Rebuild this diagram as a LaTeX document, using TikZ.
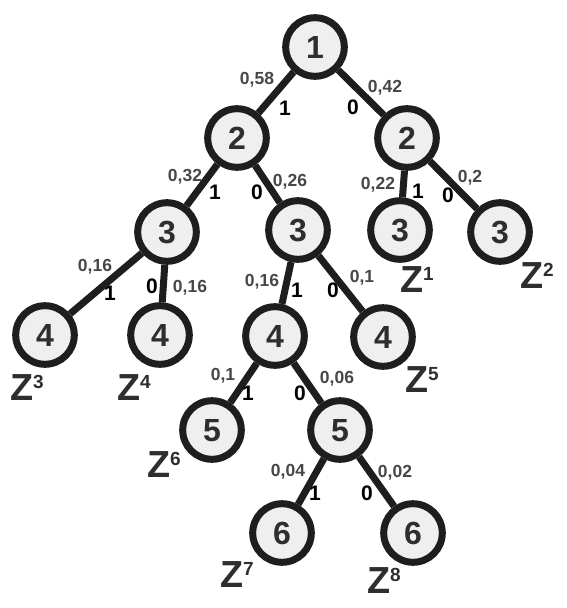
\documentclass[tikz,border=0pt]{standalone}
\usepackage{fontspec}
\setmainfont{Liberation Sans}
\usepackage{xcolor}
\usepackage{tikz}
\usetikzlibrary{positioning}
\definecolor{Bordo}{HTML}{1E1E1E}
\definecolor{Riemp}{HTML}{EFEFEF}
\definecolor{Cifra}{HTML}{2E2E2E}
\definecolor{Prob}{HTML}{474747}
\newcommand{\zlab}[1]{Z{\fontsize{19}{19}\selectfont\raisebox{12pt}{#1}}}
\tikzset{
  % Nodi dell'albero
  nodo/.style={circle,draw=Bordo,line width=7pt,fill=Riemp,minimum size=58.6pt,inner sep=0,
    text=Cifra,font=\fontsize{32}{32}\selectfont\bfseries,text height=23pt,text depth=0pt},
  % Rami
  ramo/.style={draw=Bordo,line width=7pt},
  % Etichette
  prob/.style={inner sep=0,text=Prob,font=\fontsize{17.5}{18}\selectfont\bfseries,text height=12.5pt,text depth=0pt},
  bit/.style={inner sep=0,text=black,font=\fontsize{21}{21}\selectfont\bfseries,text height=15pt,text depth=0pt},
  foglia/.style={inner sep=0,anchor=base west,text=Cifra,font=\fontsize{37.7}{38}\selectfont\bfseries}
}
\begin{document}
\begin{tikzpicture}[x=1pt,y=-1pt]
  \useasboundingbox (0,0) rectangle (567,608);
  % Livelli
  \node[nodo] (n1) at (315,47) {1};
  \node[nodo] (n2a) at (237,138) {2};
  \node[nodo] (n2b) at (407,138) {2};
  \node[nodo] (n3a) at (167,232) {3};
  \node[nodo] (n3b) at (298,230) {3};
  \node[nodo] (n3c) at (400,230) {3};
  \node[nodo] (n3d) at (500,232) {3};
  \node[nodo] (n4a) at (45,335) {4};
  \node[nodo] (n4b) at (160,335) {4};
  \node[nodo] (n4c) at (275,336) {4};
  \node[nodo] (n4d) at (383,337) {4};
  \node[nodo] (n5a) at (212,430) {5};
  \node[nodo] (n5b) at (340,430) {5};
  \node[nodo] (n6a) at (282,533) {6};
  \node[nodo] (n6b) at (413,533) {6};
  % Rami
  \foreach \a/\b in {n1/n2a,n1/n2b,n2a/n3a,n2a/n3b,n2b/n3c,n2b/n3d,
                     n3a/n4a,n3a/n4b,n3b/n4c,n3b/n4d,n4c/n5a,n4c/n5b,n5b/n6a,n5b/n6b}
    \draw[ramo] (\a) -- (\b);
  % Probabilita'
  \node[prob] (p1) at (257,78) {0,58};
  \node[prob] (p2) at (385,86) {0,42};
  \node[prob] (p3) at (185,175) {0,32};
  \node[prob] (p4) at (290,180) {0,26};
  \node[prob] (p5) at (378,183) {0,22};
  \node[prob] (p6) at (470,176) {0,2};
  \node[prob] (p7) at (95,265) {0,16};
  \node[prob] (p8) at (190,286) {0,16};
  \node[prob] (p9) at (262,280) {0,16};
  \node[prob] (p10) at (362,276) {0,1};
  \node[prob] (p11) at (223,374) {0,1};
  \node[prob] (p12) at (337,377) {0,06};
  \node[prob] (p13) at (288,470) {0,04};
  \node[prob] (p14) at (395,471) {0,02};
  % Codici
  \node[bit] (b1) at (285,108) {1};
  \node[bit] (b2) at (353,107) {0};
  \node[bit] (b3) at (215,192) {1};
  \node[bit] (b4) at (257,192) {0};
  \node[bit] (b5) at (418,191) {1};
  \node[bit] (b6) at (448,195) {0};
  \node[bit] (b7) at (110,293) {1};
  \node[bit] (b8) at (152,286) {0};
  \node[bit] (b9) at (297,290) {1};
  \node[bit] (b10) at (333,290) {0};
  \node[bit] (b11) at (248,393) {1};
  \node[bit] (b12) at (300,393) {0};
  \node[bit] (b13) at (315,493) {1};
  \node[bit] (b14) at (367,493) {0};
  % Foglie
  \node[foglia] (z1) at (400,292) {\zlab{1}};
  \node[foglia] (z2) at (520,288) {\zlab{2}};
  \node[foglia] (z3) at (10,400) {\zlab{3}};
  \node[foglia] (z4) at (117,400) {\zlab{4}};
  \node[foglia] (z5) at (405,392) {\zlab{5}};
  \node[foglia] (z6) at (147,477) {\zlab{6}};
  \node[foglia] (z7) at (220,587) {\zlab{7}};
  \node[foglia] (z8) at (367,593) {\zlab{8}};
\end{tikzpicture}
\end{document}
